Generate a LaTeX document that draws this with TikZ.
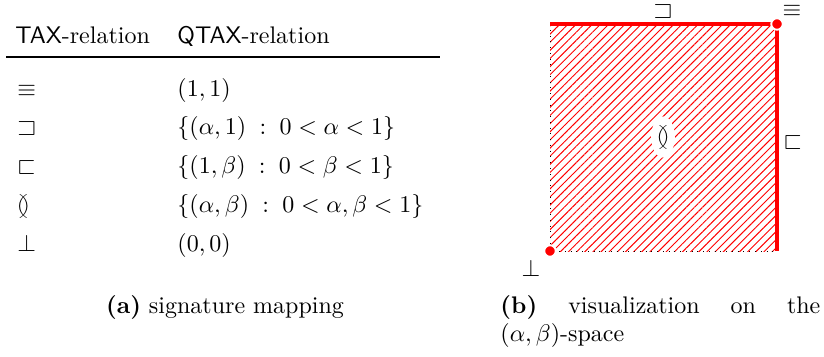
\documentclass[tikz,border=0pt]{standalone}
\usepackage{amssymb}
\usetikzlibrary{patterns.meta,shapes.geometric}
\begin{document}
\begin{tikzpicture}[x=0.41667pt,y=-0.41667pt,
  txt/.style={inner sep=0pt, anchor=base west},
  lbl/.style={inner sep=0pt},
  edge/.style={red, line width=1.8pt},
  corner/.style={fill=red, draw=white, line width=0.8pt}]
\useasboundingbox (0,0) rectangle (824,356);
% ---- table
\node[txt] (h1) at (15,44) {\textsf{TAX}-relation};
\node[txt] (h2) at (177,44) {\textsf{QTAX}-relation};
\coordinate (rl) at (6,57);
\coordinate (rr) at (440,57);
\draw[line width=0.8pt] (rl) -- (rr);
\node[txt] (s1) at (17,96)  {$\equiv$};
\node[txt] (v1) at (177,96) {$(1,1)$};
\node[txt] (s2) at (17,134) {$\sqsupset$};
\node[txt] (v2) at (177,134) {$\{(\alpha,1)\;:\;0<\alpha<1\}$};
\node[txt] (s3) at (17,173) {$\sqsubset$};
\node[txt] (v3) at (177,173) {$\{(1,\beta)\;:\;0<\beta<1\}$};
\node[txt] (s4) at (17,212) {$\between$};
\node[txt] (v4) at (177,212) {$\{(\alpha,\beta)\;:\;0<\alpha,\beta<1\}$};
\node[txt] (s5) at (17,251) {$\bot$};
\node[txt] (v5) at (177,251) {$(0,0)$};
\node[inner sep=0pt, anchor=base] (ca) at (225,313) {\textbf{(a)} signature mapping};
% ---- square
\coordinate (bl) at (550,251);
\coordinate (tr) at (777,24);
\coordinate (tl) at (550,24);
\coordinate (br) at (777,251);
\fill[pattern={Lines[angle=45,distance=2.4pt,line width=0.4pt]}, pattern color=red] (bl) rectangle (tr);
\draw[dotted] (tl) -- (bl) -- (br);
\draw[edge] (tl) -- (tr);
\draw[edge] (tr) -- (br);
\filldraw[corner] (tr) circle (2.4pt);
\filldraw[corner] (bl) circle (2.4pt);
\node[ellipse, fill=white, inner sep=1pt] (mid) at (663,137) {$\between$};
\node[lbl] (lsup) at (663,11) {$\sqsupset$};
\node[lbl] (leq) at (792,11) {$\equiv$};
\node[lbl] (lsub) at (793,142) {$\sqsubset$};
\node[lbl] (lbot) at (531,268) {$\bot$};
\node[txt] (cb) at (500,313) {\parbox[t]{133.3pt}{\textbf{(b)} visualization on the\linebreak $(\alpha,\beta)$-space}};
\end{tikzpicture}
\end{document}
